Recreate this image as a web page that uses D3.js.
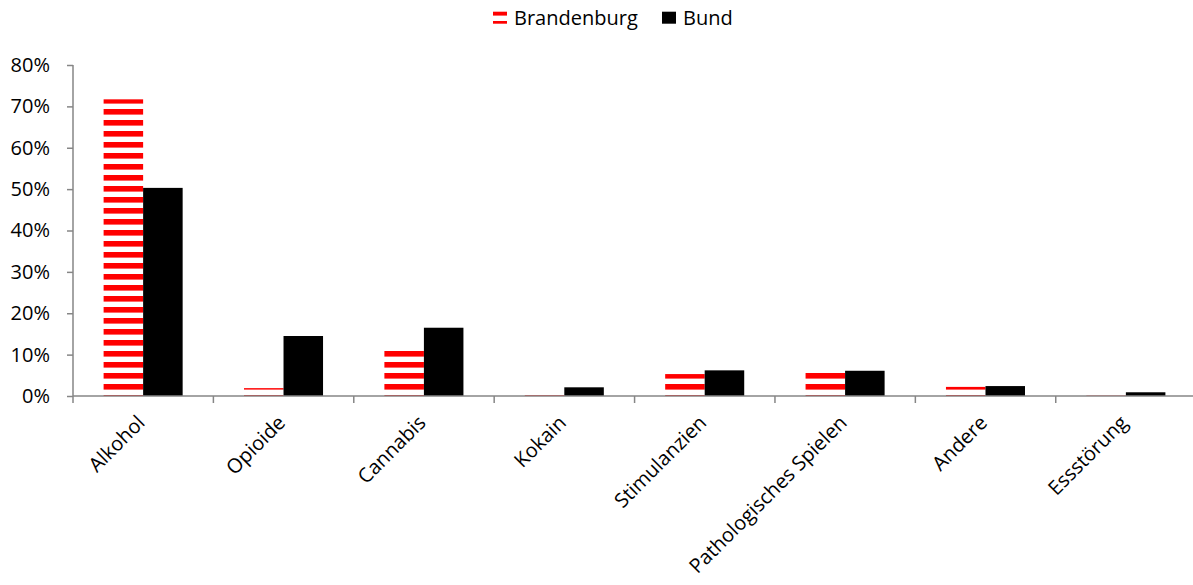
<!DOCTYPE html>
<html>
<head>
<meta charset="utf-8">
<script src="https://cdn.jsdelivr.net/npm/d3@7"></script>
<style>
  html, body { margin: 0; padding: 0; background: #fff; }
  svg { display: block; font-family: "Open Sans", sans-serif; }
</style>
</head>
<body>
<svg id="chart" width="1193" height="585"></svg>
<script>
// Share of clients by main diagnosis (%)
const categories = ["Alkohol", "Opioide", "Cannabis", "Kokain", "Stimulanzien", "Pathologisches Spielen", "Andere", "Essstörung"];
const brandenburg = [71.7, 1.9, 10.9, 0.2, 5.3, 5.6, 2.2, 0.1];
const bund = [50.3, 14.5, 16.5, 2.1, 6.2, 6.1, 2.4, 0.9];
const seriesNames = ["Brandenburg", "Bund"];
const yTicks = [0, 10, 20, 30, 40, 50, 60, 70, 80];

const svg = d3.select("#chart");
const margin = { left: 73, right: -3, top: 65, bottom: 189 };
const W = 1193, H = 585;
const axisColor = "#868686";
const fontSize = "20px";

// Horizontal stripe fill for the Brandenburg series
const defs = svg.append("defs");
const pat = defs.append("pattern")
  .attr("id", "stripes")
  .attr("patternUnits", "userSpaceOnUse")
  .attr("x", 0).attr("y", 351)
  .attr("width", 11).attr("height", 11);
pat.append("rect").attr("width", 11).attr("height", 11).attr("fill", "#fff");
pat.append("rect").attr("width", 11).attr("height", 5.6).attr("fill", "#ff0000");

const x0 = d3.scaleBand()
  .domain(categories)
  .range([margin.left, W - margin.right])
  .paddingInner(0.437)
  .paddingOuter(0.218);

const x1 = d3.scaleBand()
  .domain(seriesNames)
  .range([0, x0.bandwidth()]);

const y = d3.scaleLinear()
  .domain([0, 80])
  .range([H - margin.bottom, margin.top]);

const data = categories.map((c, i) => ({ cat: c, values: [
  { key: "Brandenburg", v: brandenburg[i] },
  { key: "Bund", v: bund[i] }
]}));

// Bars
const groups = svg.append("g").selectAll("g")
  .data(data).join("g")
  .attr("transform", d => `translate(${x0(d.cat)},0)`);

groups.selectAll("rect")
  .data(d => d.values.map(v => ({ ...v, cat: d.cat })))
  .join("rect")
  .attr("x", d => x1(d.key))
  .attr("y", d => y(d.v))
  .attr("width", x1.bandwidth())
  .attr("height", d => y(0) - y(d.v))
  .attr("fill", d => d.key === "Brandenburg" ? "url(#stripes)" : "#000");

// Y axis
const yAxis = d3.axisLeft(y)
  .tickValues(yTicks)
  .tickFormat(d => d + "%")
  .tickSize(6)
  .tickPadding(17);

const gy = svg.append("g")
  .attr("transform", `translate(${margin.left},0)`)
  .call(yAxis);
gy.select(".domain").attr("stroke", axisColor).attr("stroke-width", 1.5)
  .attr("d", `M0,${y(80)}V${y(0)}`);
gy.selectAll(".tick line").attr("stroke", axisColor).attr("stroke-width", 1.5);
gy.selectAll(".tick text")
  .attr("fill", "#000")
  .style("font-size", fontSize)
  .style("font-family", "'Open Sans', sans-serif");

// X axis: category boundaries carry the tick marks
const step = x0.step();
const boundaries = d3.range(categories.length + 1).map(i => margin.left + i * step);
const gx = svg.append("g");
gx.append("line")
  .attr("x1", margin.left).attr("x2", W)
  .attr("y1", y(0)).attr("y2", y(0))
  .attr("stroke", axisColor).attr("stroke-width", 1.5);
gx.selectAll("line.tick")
  .data(boundaries).join("line")
  .attr("class", "tick")
  .attr("x1", d => d).attr("x2", d => d)
  .attr("y1", y(0)).attr("y2", y(0) + 7)
  .attr("stroke", axisColor).attr("stroke-width", 1.5);

gx.selectAll("text")
  .data(categories).join("text")
  .attr("text-anchor", "end")
  .attr("transform", d => `translate(${x0(d) + x0.bandwidth() / 2 + 3},${y(0) + 28}) rotate(-45)`)
  .style("font-size", fontSize)
  .attr("fill", "#000")
  .text(d => d);

// Legend
const legend = svg.append("g");
const items = [
  { name: "Brandenburg", fill: "url(#stripes)", x: 493 },
  { name: "Bund", fill: "#000", x: 662 }
];
const li = legend.selectAll("g").data(items).join("g");
li.append("rect")
  .attr("x", d => d.x).attr("y", 11.7)
  .attr("width", 14).attr("height", 12)
  .attr("fill", d => d.fill);
li.append("text")
  .attr("x", d => d.x + 21).attr("y", 24.5)
  .style("font-size", fontSize)
  .attr("fill", "#000")
  .text(d => d.name);
</script>
</body>
</html>
